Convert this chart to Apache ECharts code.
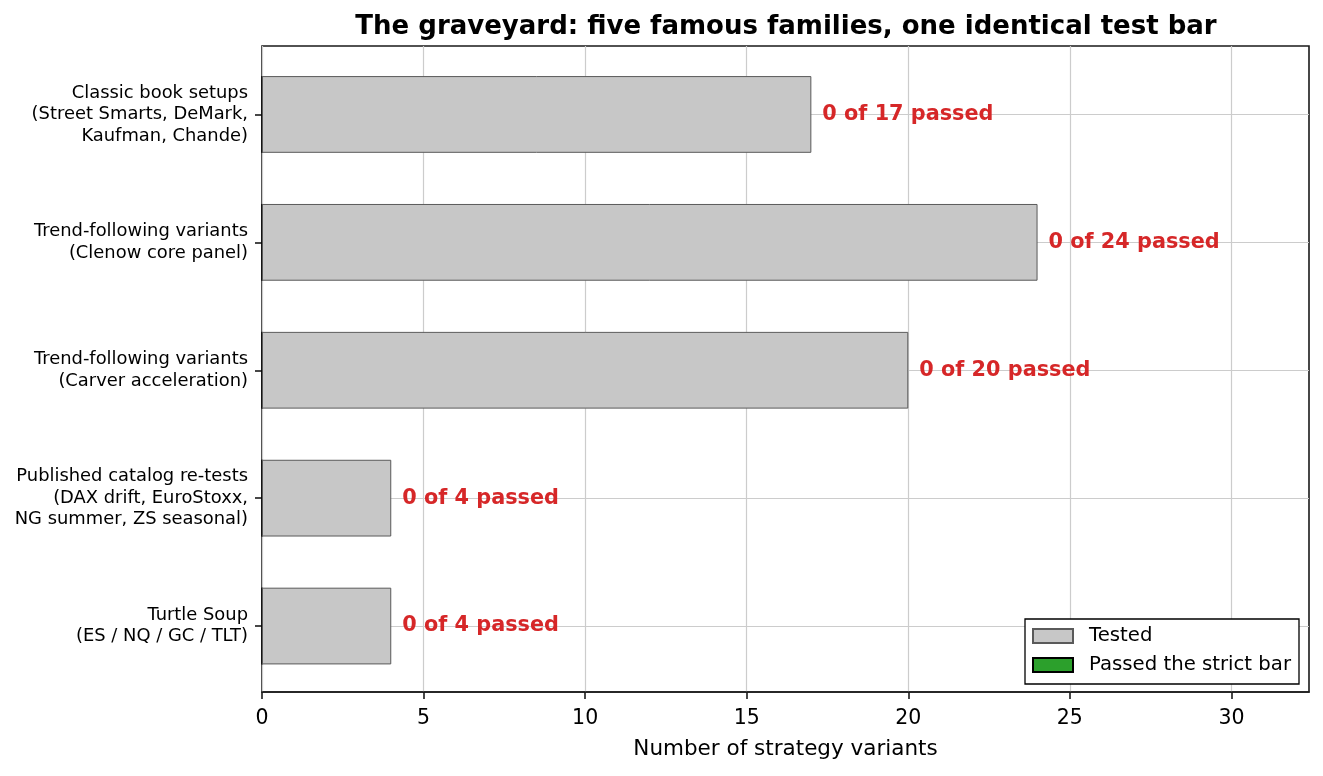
<!DOCTYPE html>
<html>
<head>
<meta charset="utf-8">
<title>graveyard</title>
<script src="https://cdn.jsdelivr.net/npm/echarts@6/dist/echarts.min.js"></script>
<style>
  html, body { margin: 0; padding: 0; background: #fff; }
  #chart { width: 1323px; height: 776px; }
</style>
</head>
<body>
<div id="chart"></div>
<script>
// families, top to bottom
var categories = [
  'Classic book setups\n(Street Smarts, DeMark,\nKaufman, Chande)',
  'Trend-following variants\n(Clenow core panel)',
  'Trend-following variants\n(Carver acceleration)',
  'Published catalog re-tests\n(DAX drift, EuroStoxx,\nNG summer, ZS seasonal)',
  'Turtle Soup\n(ES / NQ / GC / TLT)'
];
var tested = [17, 24, 20, 4, 4];
var passed = [0, 0, 0, 0, 0];
var xTicks = [0, 5, 10, 15, 20, 25, 30];
var xMax = 32.4;

var FONT = 'DejaVu Sans';
// plot frame, and the inner box for the categories (matplotlib keeps a small margin above/below the bars)
var frame = { left: 262, right: 14, top: 46, bottom: 84 };
var padTop = 4.5, padBottom = 2;

var chart = echarts.init(document.getElementById('chart'));

var option = {
  animation: false,
  backgroundColor: '#fff',
  textStyle: { fontFamily: FONT },
  title: {
    text: 'The graveyard: five famous families, one identical test bar',
    left: 781,
    top: 9,
    textAlign: 'center',
    textStyle: { fontFamily: FONT, fontSize: 26, fontWeight: 'bold', color: '#000' }
  },
  grid: [{
    left: frame.left,
    right: frame.right,
    top: frame.top,
    bottom: frame.bottom,
    show: true,
    borderColor: '#1a1a1a',
    borderWidth: 1.6,
    backgroundColor: 'transparent'
  }, {
    left: frame.left,
    right: frame.right,
    top: frame.top + padTop,
    bottom: frame.bottom + padBottom
  }],
  legend: {
    orient: 'vertical',
    right: 24,
    bottom: 92,
    data: ['Tested', 'Passed the strict bar'],
    icon: 'rect',
    itemWidth: 40,
    itemHeight: 14,
    itemGap: 9,
    padding: [7, 8, 9, 7],
    borderColor: '#000',
    borderWidth: 1.3,
    borderRadius: 0,
    backgroundColor: '#fff',
    textStyle: { fontFamily: FONT, fontSize: 19.7, color: '#000', padding: [0, 0, 0, 11] }
  },
  xAxis: [{
    gridIndex: 0,
    type: 'value',
    min: 0,
    max: xMax,
    interval: 5,
    name: 'Number of strategy variants',
    nameLocation: 'middle',
    nameGap: 46,
    nameTextStyle: { fontFamily: FONT, fontSize: 21.5, color: '#000' },
    axisLine: { show: true, lineStyle: { color: '#1a1a1a', width: 1.6 } },
    axisTick: { show: true, length: 7, customValues: xTicks, lineStyle: { color: '#1a1a1a', width: 1.6 } },
    axisLabel: { customValues: xTicks, margin: 16, fontFamily: FONT, fontSize: 20.5, color: '#000' },
    splitLine: { show: true, lineStyle: { color: '#cccccc', width: 1.2 } }
  }, {
    gridIndex: 1,
    type: 'value',
    min: 0,
    max: xMax,
    show: false,
    splitLine: { show: false }
  }],
  yAxis: [{
    gridIndex: 0,
    type: 'value',
    show: false,
    splitLine: { show: false }
  }, {
    gridIndex: 1,
    type: 'category',
    inverse: true,
    data: categories,
    axisLine: { show: false },
    axisTick: { show: true, length: 7, alignWithLabel: true, lineStyle: { color: '#1a1a1a', width: 1.6 } },
    axisLabel: { margin: 14, fontFamily: FONT, fontSize: 17.9, lineHeight: 21.5, color: '#000', align: 'right' },
    splitLine: { show: false }
  }],
  series: [{
    name: 'Tested',
    type: 'bar',
    xAxisIndex: 1,
    yAxisIndex: 1,
    z: 3,
    data: tested,
    barCategoryGap: '40%',
    barGap: '-100%',
    itemStyle: { color: '#c7c7c7', borderColor: '#5a5a5a', borderWidth: 1 },
    label: {
      show: true,
      position: 'right',
      distance: 11,
      fontFamily: FONT,
      fontSize: 20.8,
      fontWeight: 'bold',
      color: '#d62728',
      formatter: function (p) {
        return passed[p.dataIndex] + ' of ' + tested[p.dataIndex] + ' passed';
      }
    }
  }, {
    name: 'Passed the strict bar',
    type: 'bar',
    xAxisIndex: 1,
    yAxisIndex: 1,
    z: 2,
    data: passed,
    barCategoryGap: '40%',
    barGap: '-100%',
    itemStyle: { color: '#2ca02c', borderColor: '#000', borderWidth: 1 },
    markLine: {
      silent: true,
      z: 1,
      symbol: 'none',
      label: { show: false },
      lineStyle: { color: '#cccccc', width: 1.2, type: 'solid' },
      data: categories.map(function (c) { return { yAxis: c }; })
    }
  }]
};

chart.setOption(option);
</script>
</body>
</html>
